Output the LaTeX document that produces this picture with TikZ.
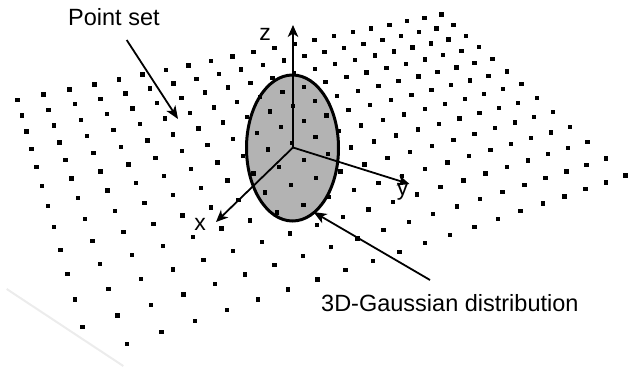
\documentclass[tikz,border=0pt]{standalone}
\usepackage{fontspec}
\setmainfont{Liberation Sans}
\usetikzlibrary{arrows.meta,shapes.geometric}
\definecolor{ellgray}{RGB}{179,179,179}
\definecolor{faint}{RGB}{236,236,236}
\tikzset{
  dotsq/.style={fill=black},
  axis/.style={line width=1.8pt,-{Stealth[length=12pt,width=10.5pt,inset=3.5pt]}},
  pointer/.style={line width=1.8pt,-{Stealth[length=13pt,width=10.5pt,inset=3.5pt]}},
  lbl/.style={inner sep=0pt,font=\fontsize{23.5}{26}\selectfont},
  axlbl/.style={inner sep=0pt,font=\fontsize{23}{25}\selectfont},
}
\begin{document}
\begin{tikzpicture}[x=1pt,y=-1pt]
\useasboundingbox (0,0) rectangle (630,367);
% faint edge artifact
\draw[faint,line width=2pt] (6.7,289) -- (123.3,366);
% ellipse
\node[draw=black,fill=ellgray,line width=3pt,ellipse,minimum width=92pt,minimum height=146pt,inner sep=0pt] (ell) at (292.5,148) {};
% point grid (perspective lattice 21 x 13)
\foreach \i in {0,...,20}{
  \foreach \j in {0,...,12}{
    \ifnum\numexpr\i+\j*100\relax=1200\relax\else
      \pgfmathsetmacro{\u}{\i/20}
      \pgfmathsetmacro{\v}{\j/12}
      \pgfmathsetmacro{\w}{1+0.25692*\u-0.29470*\v}
      \pgfmathsetmacro{\X}{(537.88*\u+46.88*\v+17.3)/\w}
      \pgfmathsetmacro{\Y}{(-82.026*\u+151.09*\v+100)/\w}
      \fill[dotsq] (\X-2.2,\Y-2.2) rectangle (\X+2.2,\Y+2.2);
    \fi
  }
}
% axes
\coordinate (O) at (293,147.5);
\coordinate (zt) at (293,25);
\coordinate (xt) at (216,222);
\coordinate (yt) at (409.5,184);
\draw[axis] (O) -- (zt);
\draw[axis] (O) -- (xt);
\draw[axis] (O) -- (yt);
\node[axlbl] (zl) at (265,34) {z};
\node[axlbl] (xl) at (200,224) {x};
\node[axlbl] (yl) at (402.5,192) {y};
% labels and pointers
\node[lbl,anchor=base west] (ps) at (68,25) {Point set};
\node[lbl,anchor=base west] (gd) at (321,311.3) {3D-Gaussian distribution};
\coordinate (ps-s) at (126.7,40);
\coordinate (ps-t) at (178,119);
\coordinate (gd-s) at (430,280);
\coordinate (gd-t) at (313.5,212);
\draw[pointer] (ps-s) -- (ps-t);
\draw[pointer] (gd-s) -- (gd-t);
\end{tikzpicture}
\end{document}
